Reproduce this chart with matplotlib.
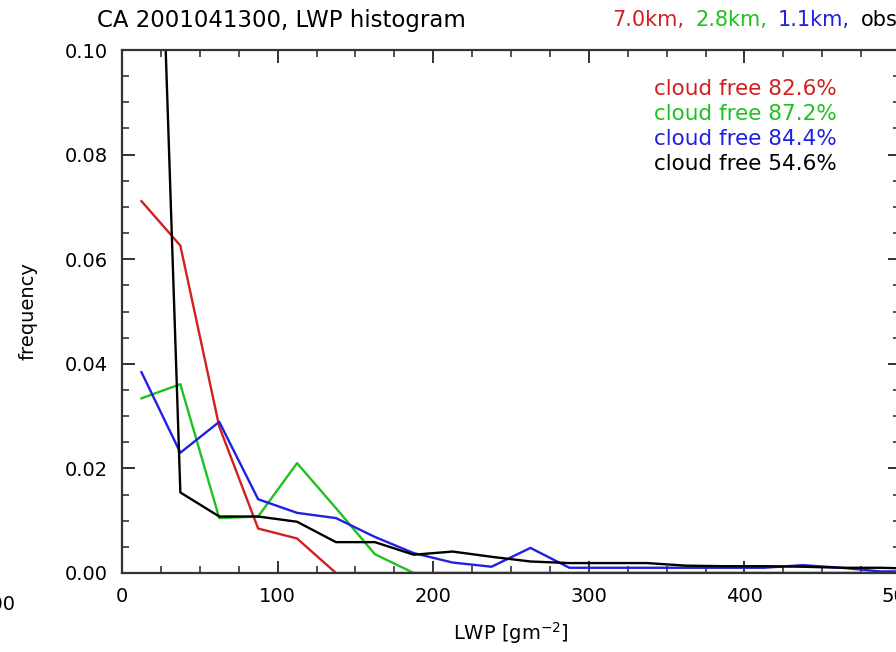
import numpy as np
import matplotlib
matplotlib.use('Agg')
import matplotlib.pyplot as plt
from matplotlib.ticker import MultipleLocator

# bin centres of the LWP histogram (25 g/m2 bins)
lwp = [12.5, 37.5, 62.5, 87.5, 112.5, 137.5, 162.5, 187.5, 212.5, 237.5, 262.5,
       287.5, 312.5, 337.5, 362.5, 387.5, 412.5, 437.5, 462.5, 487.5, 512.5]

freq_7km = [0.0711, 0.0626, 0.0280, 0.0085, 0.0066, 0.0, 0.0, 0.0, 0.0, 0.0, 0.0,
            0.0, 0.0, 0.0, 0.0, 0.0, 0.0, 0.0, 0.0, 0.0, 0.0]
freq_2p8km = [0.0334, 0.0361, 0.0105, 0.0108, 0.0210, 0.0124, 0.0036, 0.0, 0.0, 0.0, 0.0,
              0.0, 0.0, 0.0, 0.0, 0.0, 0.0, 0.0, 0.0, 0.0, 0.0]
freq_1p1km = [0.0384, 0.0230, 0.0289, 0.0141, 0.0115, 0.0105, 0.0069, 0.0038, 0.0020, 0.0012, 0.0048,
              0.0010, 0.0010, 0.0010, 0.0010, 0.0010, 0.0010, 0.0015, 0.0010, 0.0003, 0.0003]
freq_obs = [0.2400, 0.0154, 0.0108, 0.0108, 0.0098, 0.0059, 0.0059, 0.0035, 0.0041, 0.0031, 0.0022,
            0.0019, 0.0019, 0.0019, 0.0014, 0.0013, 0.0013, 0.0012, 0.0010, 0.0010, 0.0008]

series_names = ['7.0km', '2.8km', '1.1km', 'obs']
cloud_free = [82.6, 87.2, 84.4, 54.6]
colors = ['#d02020', '#20c020', '#2020e0', '#000000']

plt.rcParams['font.family'] = ['DejaVu Sans']

fig = plt.figure(figsize=(8.96, 6.52), dpi=100)
ax = fig.add_axes([122 / 896, 79 / 652, 778 / 896, 523 / 652])

for ys, c in zip([freq_7km, freq_2p8km, freq_1p1km, freq_obs], colors):
    ax.plot(lwp, ys, color=c, lw=1.7)

ax.set_xlim(0, 500)
ax.set_ylim(0, 0.10)
ax.xaxis.set_major_locator(MultipleLocator(100))
ax.xaxis.set_minor_locator(MultipleLocator(25))
ax.yaxis.set_major_locator(MultipleLocator(0.02))
ax.yaxis.set_minor_locator(MultipleLocator(0.005))
ax.yaxis.set_major_formatter(matplotlib.ticker.FormatStrFormatter('%.2f'))
ax.tick_params(which='both', direction='in', top=True, right=True, labelsize=14, color='#222222')
ax.tick_params(which='major', length=9, width=1.3, pad=10)
ax.tick_params(which='minor', length=5, width=1.1)
for s in ax.spines.values():
    s.set_linewidth(1.6)
    s.set_color('#333333')

ax.set_xlabel('LWP [gm$^{-2}$]', fontsize=14, labelpad=10)
ax.set_ylabel('frequency', fontsize=14, labelpad=20)

for i, (p, c) in enumerate(zip(cloud_free, colors)):
    ax.text(0.684, 0.925 - i * 0.0475, 'cloud free %.1f%%' % p, color=c,
            fontsize=15.5, transform=ax.transAxes, va='center')

# title: plain part then the coloured series list
fig.text(97 / 896, 1 - 20 / 652, 'CA 2001041300, LWP histogram', fontsize=16.5, va='center')
prev = fig.text(612 / 896, 1 - 20 / 652, series_names[0] + ',', color=colors[0], fontsize=15, va='center')
for i in range(1, len(series_names)):
    label = series_names[i] + (',' if i < len(series_names) - 1 else '')
    prev = ax.annotate(label, xy=(1, 0), xycoords=prev, xytext=(8, 0), textcoords='offset points',
                       color=colors[i], fontsize=15, va='bottom', annotation_clip=False)

# neighbouring panel's tick label, cut at the left edge
fig.text(15 / 896, 1 - 605 / 652, '500', fontsize=14, ha='right', va='center')

fig.savefig('out.png', dpi=100)
